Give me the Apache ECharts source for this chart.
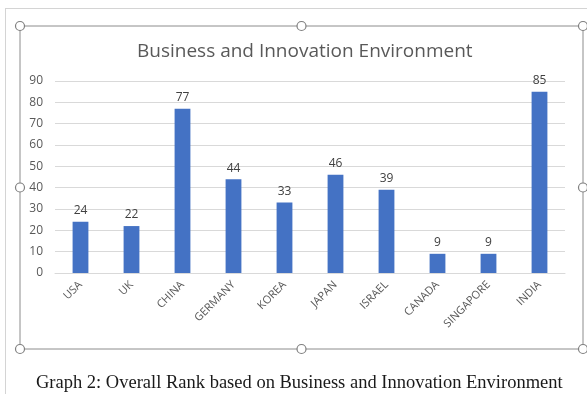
<!DOCTYPE html>
<html>
<head>
<meta charset="utf-8">
<script src="https://cdn.jsdelivr.net/npm/echarts@6/dist/echarts.min.js"></script>
<style>
  html, body { margin: 0; padding: 0; background: #ffffff; }
  #chart { width: 587px; height: 394px; }
</style>
</head>
<body>
<div id="chart"></div>
<script>
// Business and innovation environment scores by country
const countries = ['USA', 'UK', 'CHINA', 'GERMANY', 'KOREA', 'JAPAN', 'ISRAEL', 'CANADA', 'SINGAPORE', 'INDIA'];
const scores = [24, 22, 77, 44, 33, 46, 39, 9, 9, 85];
const yTicks = [0, 10, 20, 30, 40, 50, 60, 70, 80, 90];

const chart = echarts.init(document.getElementById('chart'), null, { renderer: 'canvas' });

// Frame around the chart object with its resize handles
const frame = { left: 20, top: 26, right: 583, bottom: 349 };
const midX = (frame.left + frame.right) / 2;
const midY = (frame.top + frame.bottom) / 2;
const handlePts = [
  [frame.left, frame.top], [midX, frame.top], [frame.right, frame.top],
  [frame.left, midY], [frame.right, midY],
  [frame.left, frame.bottom], [midX, frame.bottom], [frame.right, frame.bottom]
];

const graphics = [
  // page edge lines
  { type: 'line', shape: { x1: 5, y1: 8.5, x2: 587, y2: 8.5 }, style: { stroke: '#d4d4d4', lineWidth: 1 }, silent: true },
  { type: 'line', shape: { x1: 5.5, y1: 8, x2: 5.5, y2: 394 }, style: { stroke: '#d4d4d4', lineWidth: 1 }, silent: true },
  // chart object border
  { type: 'rect', shape: { x: frame.left, y: frame.top, width: frame.right - frame.left, height: frame.bottom - frame.top },
    style: { fill: 'none', stroke: '#8c8c8c', lineWidth: 1 }, silent: true, z: 10 }
].concat(handlePts.map(p => ({
  type: 'circle', shape: { cx: p[0], cy: p[1], r: 4.5 },
  style: { fill: '#ffffff', stroke: '#7f7f7f', lineWidth: 1.2 }, silent: true, z: 11
})));

chart.setOption({
  animation: false,
  backgroundColor: '#ffffff',
  title: [
    {
      text: 'Business and Innovation Environment',
      left: 132, top: 37,
      textStyle: { fontFamily: 'Open Sans', fontSize: 19, fontWeight: 'normal', color: '#595959' }
    },
    {
      text: 'Graph 2: Overall Rank based on Business and Innovation Environment',
      left: 31, top: 369,
      textStyle: { fontFamily: 'Liberation Serif', fontSize: 18.5, fontWeight: 'normal', color: '#1a1a1a' }
    }
  ],
  grid: { left: 55, right: 22, top: 81, bottom: 121, containLabel: false },
  xAxis: {
    type: 'category',
    data: countries,
    axisLine: { show: true, lineStyle: { color: '#d9d9d9' } },
    axisTick: { show: false },
    axisLabel: {
      rotate: 45, interval: 0, margin: 10,
      fontFamily: 'Open Sans', fontSize: 11, color: '#595959'
    }
  },
  yAxis: {
    type: 'value',
    min: yTicks[0], max: yTicks[yTicks.length - 1], interval: 10,
    axisLine: { show: false },
    axisTick: { show: false },
    splitLine: { lineStyle: { color: '#d9d9d9', width: 1 } },
    axisLabel: { fontFamily: 'Open Sans', fontSize: 12, color: '#595959', margin: 12 }
  },
  series: [{
    type: 'bar',
    data: scores,
    barWidth: '31%',
    itemStyle: { color: '#4472c4' },
    label: {
      show: true, position: 'top', distance: 5,
      fontFamily: 'Open Sans', fontSize: 12, color: '#404040'
    }
  }],
  graphic: graphics
});
</script>
</body>
</html>
